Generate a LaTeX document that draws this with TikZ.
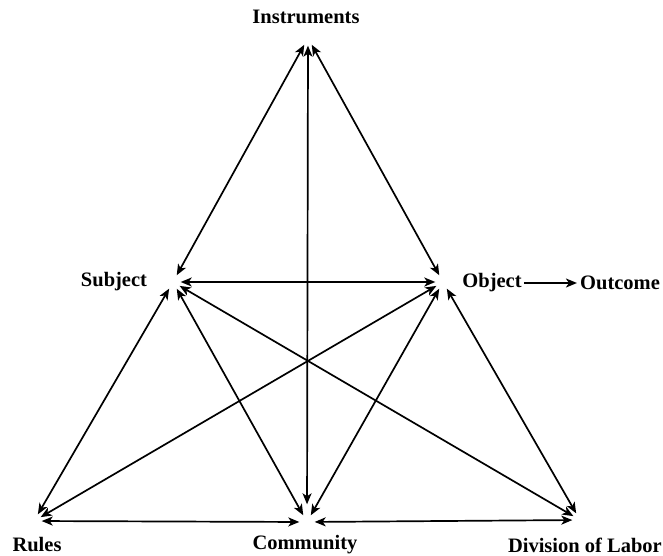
\documentclass[tikz,border=0pt]{standalone}
\usepackage{fontspec}
\setmainfont{Liberation Serif}
\usetikzlibrary{arrows.meta}
\tikzset{
  lbl/.style={font=\fontsize{20.5}{22}\selectfont\bfseries, inner sep=0pt},
  pt/.style={circle, inner sep=0pt, minimum size=15pt},
  tip/.style={Stealth[length=11pt,width=9pt,inset=3pt]},
  link/.style={line width=1.7pt, {Stealth[length=11pt,width=9pt,inset=3pt]}-{Stealth[length=11pt,width=9pt,inset=3pt]}},
  onearrow/.style={line width=1.7pt, -{Stealth[length=11pt,width=9pt,inset=3pt]}}
}
\begin{document}
\begin{tikzpicture}[x=1pt,y=-1pt]
\useasboundingbox (0,0) rectangle (663,556);
% points
\node[pt] (I) at (308,38) {};
\node[pt] (S) at (173,282) {};
\node[pt] (O) at (443,282) {};
\node[pt] (R) at (34,521) {};
\node[pt] (C) at (307,522) {};
\node[pt] (D) at (580,520) {};
% labels
\node[lbl] (tI) at (306,17) {Instruments};
\node[lbl] (tS) at (114,282) {Subject};
\node[lbl] (tO) at (492,283) {Object};
\node[lbl] (tOut) at (620,283) {Outcome};
\node[lbl] (tR) at (37,545) {Rules};
\node[lbl] (tC) at (305,545) {Community};
\node[lbl, anchor=east] (tD) at (662,545) {Division of Labor};
% connectors
\draw[link] (I) -- (S);
\draw[link] (I) -- (O);
\draw[link, shorten >=10pt] (I) -- (C);
\draw[link] (S) -- (O);
\draw[link] (S) -- (R);
\draw[link] (S) -- (C);
\draw[link] (S) -- (D);
\draw[link] (O) -- (R);
\draw[link] (O) -- (C);
\draw[link] (O) -- (D);
\draw[link] (R) -- (C);
\draw[link] (C) -- (D);
\coordinate (oa) at ([xshift=2pt]tO.east);
\coordinate (ob) at ([xshift=-3pt]tOut.west);
\draw[onearrow] (oa) -- (oa -| ob);
\end{tikzpicture}
\end{document}
